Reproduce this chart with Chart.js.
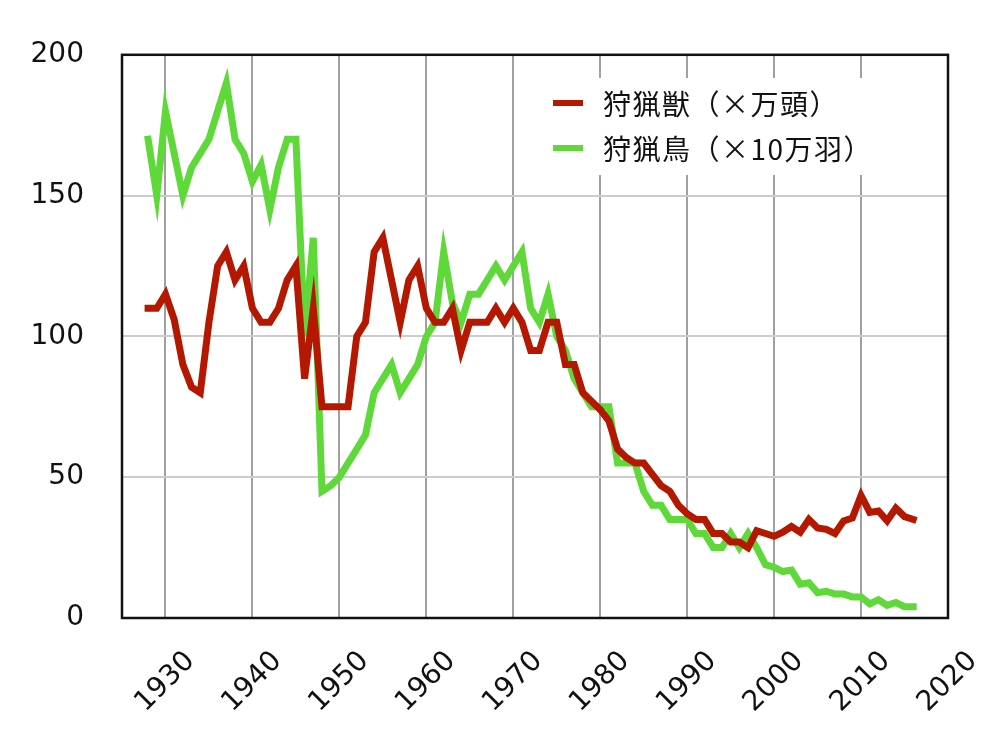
<!DOCTYPE html>
<html><head><meta charset="utf-8">
<script src="https://cdn.jsdelivr.net/npm/chart.js@4/dist/chart.umd.min.js"></script>
<style>html,body{margin:0;padding:0;background:#fff}#wrap{width:1000px;height:739px}</style>
</head><body><div id="wrap"><canvas id="c" width="1000" height="739"></canvas></div>
<script>
const years = [1928,1929,1930,1931,1932,1933,1934,1935,1936,1937,1938,1939,1940,1941,1942,1943,1944,1945,1946,1947,1948,1949,1950,1951,1952,1953,1954,1955,1956,1957,1958,1959,1960,1961,1962,1963,1964,1965,1966,1967,1968,1969,1970,1971,1972,1973,1974,1975,1976,1977,1978,1979,1980,1981,1982,1983,1984,1985,1986,1987,1988,1989,1990,1991,1992,1993,1994,1995,1996,1997,1998,1999,2000,2001,2002,2003,2004,2005,2006,2007,2008,2009,2010,2011,2012,2013,2014,2015,2016];
// 狩猟獣（×万頭）
const beasts = [110,110,115,106,90,82,80,105,125,130,120,125,110,105,105,110,120,125,85,110,75,75,75,75,100,105,130,135,120,105,120,125,110,105,105,110,95,105,105,105,110,105,110,105,95,95,105,105,90,90,80,77,74,70,60,57,55,55,51,47,45,40,37,35,35,30,30,27,27,25,31,30,29,30.5,32.5,30.5,35,32,31.5,30,34.5,35.5,43.5,37.5,38,34.5,39,36,35];
// 狩猟鳥（×10万羽）
const birds = [170,150,180,165,150,160,165,170,180,190,170,165,155,161,145,160,170,170,100,135,45,47,50,55,60,65,80,85,90,80,85,90,100,105,130,112,105,115,115,120,125,120,125,130,110,105,115,100,95,85,80,75,75,75,55,55,55,45,40,40,35,35,35,30,30,25,25,30,25,30,25,19,18,16.5,17,12,12.5,9,9.5,8.5,8.5,7.5,7.5,5,6.5,4.5,5.5,4,4];
const seriesNames = ['狩猟獣（×万頭）', '狩猟鳥（×10万羽）'];
const seriesColors = ['#b41800', '#5fd83a'];
const xTicks = [1930,1940,1950,1960,1970,1980,1990,2000,2010,2020];
const yTicks = [0,50,100,150,200];

const tickFont = {family: 'DejaVu Sans', size: 28};

const frame = {
  id: 'frame',
  afterDatasetsDraw(chart) {
    const {ctx, chartArea: a} = chart;
    ctx.save();
    ctx.strokeStyle = '#111';
    ctx.lineWidth = 2.5;
    ctx.strokeRect(a.left, a.top, a.right - a.left, a.bottom - a.top);
    ctx.restore();
  }
};

const legendBox = {
  id: 'legendBox',
  afterDraw(chart) {
    const ctx = chart.ctx;
    ctx.save();
    ctx.fillStyle = '#fff';
    ctx.fillRect(540, 78, 340, 97);
    const rows = [103, 148];
    chart.data.datasets.forEach((ds, i) => {
      const y = rows[i];
      ctx.strokeStyle = ds.borderColor;
      ctx.lineWidth = 6;
      ctx.lineCap = 'butt';
      ctx.beginPath();
      ctx.moveTo(553, y);
      ctx.lineTo(583, y);
      ctx.stroke();
      ctx.fillStyle = '#111';
      ctx.font = '28px "Noto Sans CJK JP"';
      if ('letterSpacing' in ctx) ctx.letterSpacing = '1.5px';
      ctx.textAlign = 'left';
      ctx.textBaseline = 'middle';
      ctx.fillText(ds.label, 603, y + 1);
    });
    ctx.restore();
  }
};

const toPoints = (vals) => years.map((yr, i) => ({x: yr, y: vals[i]}));

new Chart(document.getElementById('c'), {
  type: 'line',
  data: {
    datasets: [
      {label: seriesNames[0], data: toPoints(beasts), borderColor: seriesColors[0], backgroundColor: seriesColors[0],
       borderWidth: 7, pointRadius: 0, tension: 0, borderJoinStyle: 'miter', borderCapStyle: 'square', fill: false},
      {label: seriesNames[1], data: toPoints(birds), borderColor: seriesColors[1], backgroundColor: seriesColors[1],
       borderWidth: 7, pointRadius: 0, tension: 0, borderJoinStyle: 'miter', borderCapStyle: 'square', fill: false}
    ]
  },
  options: {
    responsive: false,
    animation: false,
    devicePixelRatio: 1,
    layout: {padding: {top: 50, right: 52, left: 0, bottom: 0}},
    plugins: {legend: {display: false}, tooltip: {enabled: false}},
    scales: {
      x: {
        type: 'linear', min: 1925, max: 2020,
        afterBuildTicks: s => { s.ticks = xTicks.map(v => ({value: v})); },
        afterFit: s => { s.height = 121; },
        grid: {color: '#a0a0a0', lineWidth: 2, drawTicks: false},
        border: {display: false},
        ticks: {minRotation: 45, maxRotation: 45, autoSkip: false, padding: 27, labelOffset: 25,
                font: tickFont, color: '#111', callback: v => String(v)}
      },
      y: {
        min: 0, max: 200,
        afterBuildTicks: s => { s.ticks = yTicks.map(v => ({value: v})); },
        afterFit: s => { s.width = 122; },
        grid: {color: '#cccccc', lineWidth: 2, drawTicks: false},
        border: {display: false},
        ticks: {padding: 38, font: tickFont, color: '#111', callback: v => String(v)}
      }
    }
  },
  plugins: [frame, legendBox]
});
</script>
</body></html>
